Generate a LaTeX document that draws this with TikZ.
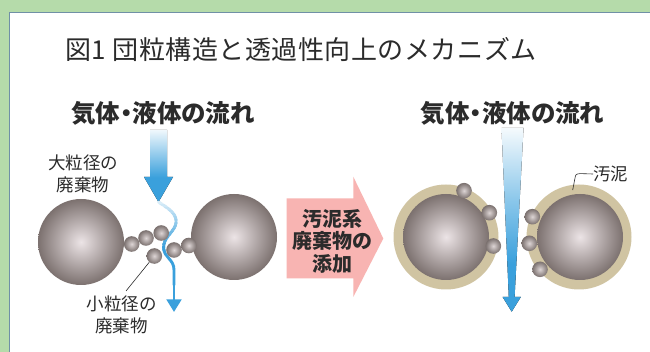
\documentclass[tikz,border=0pt]{standalone}
\usepackage{fontspec}
\newfontfamily\jp{Noto Sans CJK JP}
\newfontfamily\jptitle{Noto Sans CJK JP}[LetterSpace=2]
\newfontfamily\jpprop{Noto Sans CJK JP}[RawFeature=+palt]
\usetikzlibrary{arrows.meta}

\definecolor{framegreen}{HTML}{B5DBAA}
\definecolor{panelline}{HTML}{7090A6}
\definecolor{inktext}{HTML}{2B2B2B}
\definecolor{spherelight}{HTML}{ECE4E6}
\definecolor{spheredark}{HTML}{7C716F}
\definecolor{beadlight}{HTML}{DDD5D5}
\definecolor{beaddark}{HTML}{7A706E}
\definecolor{coat}{HTML}{D0C4A2}
\definecolor{flowblue}{HTML}{3AA0DC}
\definecolor{addpink}{HTML}{F8B4B2}

% vertical blends: solid blue below, fading to white at the top
\pgfdeclareverticalshading{flowshade}{100bp}{color(0bp)=(flowblue); color(25bp)=(flowblue); color(42bp)=(flowblue); color(75bp)=(white!92!flowblue); color(100bp)=(white!92!flowblue)}
\pgfdeclareverticalshading{taperflow}{100bp}{color(0bp)=(flowblue); color(25bp)=(flowblue); color(38bp)=(flowblue); color(55bp)=(flowblue!60!white); color(75bp)=(white!95!flowblue); color(100bp)=(white!95!flowblue)}

% winding path of the liquid between the fine particles
\newcommand\wavepath{(158.5,202) .. controls (166,207) and (177.5,213) .. (176,223) .. controls (174.8,232) and (163,237) .. (163.6,248) .. controls (164.2,258) and (174,259) .. (174,270) -- (174,285)}

\begin{document}
\begin{tikzpicture}[x=1pt,y=-1pt,
  bigsphere/.style={circle, inner sep=0pt, minimum size=86pt, inner color=spherelight, outer color=spheredark},
  bead/.style={circle, inner sep=0pt, minimum size=15.6pt, inner color=beadlight, outer color=beaddark},
  coating/.style={circle, inner sep=0pt, minimum size=105pt, fill=coat},
  titletext/.style={inner sep=0pt, text=inktext, font=\jptitle\fontsize{26}{30}\selectfont},
  headtext/.style={inner sep=0pt, text=inktext, font=\jpprop\bfseries\fontsize{24.5}{28}\selectfont},
  labeltext/.style={inner sep=0pt, text=inktext, align=center, font=\jp\fontsize{17.5}{22}\selectfont},
  addtext/.style={inner sep=0pt, text=inktext, align=center, font=\jp\bfseries\fontsize{20}{22.5}\selectfont},
  leader/.style={draw=inktext, line width=0.6pt},
  wave/.style={line width=2.9pt, line cap=round}
]
\useasboundingbox (0,0) rectangle (650,352);

% outer frame and white panel
\fill[framegreen] (0,0) rectangle (650,352);
\draw[panelline, fill=white, line width=0.9pt] (9,12) rectangle (662,364);

% title and flow headings
\node[titletext] (title) at (301,49.5) {図1 団粒構造と透過性向上のメカニズム};
\node[headtext] (headL) at (163,113.5) {気体・液体の流れ};
\node[headtext] (headR) at (512.5,113.5) {気体・液体の流れ};

% ---- left: coarse and fine waste particles ----
\node[bigsphere] (bigL) at (81,242) {};
\node[bigsphere] (bigR) at (234,237) {};

% incoming flow arrow
\coordinate (inTip) at (158.5,202);
\fill[shading=flowshade]
  (150,130) -- (167,130) -- (167,177) -- (173,177) -- (inTip) -- (144,177) -- (150,177) -- cycle;

% winding path: lighter at its start, drawn band by band
\foreach \i in {0,...,16}{
  \pgfmathsetmacro\pct{14+86*\i/16}
  \begin{scope}
    \clip (140,{199+3*\i}) rectangle (190,{203+3*\i});
    \draw[wave, draw=flowblue!\pct!white] \wavepath;
  \end{scope}
}
\begin{scope}
  \clip (140,250) rectangle (190,330);
  \draw[wave, draw=flowblue] \wavepath;
\end{scope}
\coordinate (waveStem) at (174,284);
\coordinate (waveEnd) at (174,312);
\draw[wave, draw=flowblue, line cap=butt, -{Triangle[width=14.5pt,length=12.5pt]}] (waveStem) -- (waveEnd);

\node[bead] (p1) at (131.7,244) {};
\node[bead] (p2) at (146,238) {};
\node[bead] (p3) at (161.2,233) {};
\node[bead] (p4) at (154.3,256) {};
\node[bead] (p5) at (174,250) {};
\node[bead] (p6) at (188.8,245.5) {};

\node[labeltext] (coarse) at (83,174) {大粒径の\\廃棄物};
\node[labeltext] (fine) at (121.5,314.5) {小粒径の\\廃棄物};
\coordinate (fineend) at (126,291);
\draw[leader] (p4) -- (fineend);

% ---- middle: addition of sludge waste ----
\fill[addpink] (286.7,198.3) -- (353.3,198.3) -- (353.3,176.7) -- (383.3,238.5) -- (353.3,297) -- (353.3,278.3) -- (286.7,278.3) -- cycle;
\node[addtext] (addlbl) at (332.5,241) {汚泥系\\廃棄物の\\添加};

% ---- right: coated aggregates ----
\node[coating] (coatL) at (446,237) {};
\node[bigsphere] (coreL) at (446,237) {};
\node[coating] (coatR) at (579,237) {};
\node[bigsphere] (coreR) at (580,237) {};

\node[bead] (q1) at (464,190.7) {};
\node[bead] (q2) at (489.3,212.7) {};
\node[bead] (q3) at (493.3,246) {};
\node[bead] (q4) at (532.3,216.7) {};
\node[bead] (q5) at (529.3,243.3) {};
\node[bead] (q6) at (540,269.3) {};

% sludge label with leader
\node[labeltext, anchor=west] (sludge) at (593,174) {汚泥};
\coordinate (ringpt) at (572.7,190);
\draw[leader] (ringpt) -- (575,178) .. controls (575.8,174.2) .. (580,173.6) -- (sludge.west);

% wide open pore: tapered flow arrow
\coordinate (outTip) at (511.7,311.7);
\fill[shading=taperflow]
  (501.5,128) -- (523.5,128) -- (514.6,297) -- (520.8,297) -- (outTip) -- (502.6,297) -- (508.8,297) -- cycle;
\end{tikzpicture}
\end{document}
